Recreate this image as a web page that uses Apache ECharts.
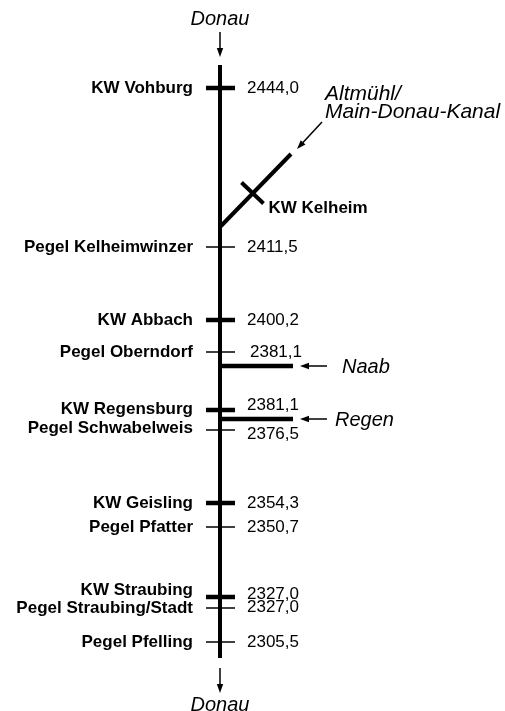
<!DOCTYPE html>
<html>
<head>
<meta charset="utf-8">
<script src="https://cdn.jsdelivr.net/npm/echarts@6/dist/echarts.min.js"></script>
<style>
html, body { margin: 0; padding: 0; background: #fff; }
#main { width: 505px; height: 711px; }
</style>
</head>
<body>
<div id="main"></div>
<script>
// Stationen an der Donau, von oben (Vohburg) nach unten (Pfelling)
var stations = ['KW Vohburg', 'Pegel Kelheimwinzer', 'KW Abbach', 'Pegel Oberndorf', 'KW Regensburg',
                'Pegel Schwabelweis', 'KW Geisling', 'Pegel Pfatter', 'KW Straubing', 'Pegel Straubing/Stadt', 'Pegel Pfelling'];
var km     = [2444.0, 2411.5, 2400.2, 2381.1, 2381.1, 2376.5, 2354.3, 2350.7, 2327.0, 2327.0, 2305.5];
var kind   = ['KW', 'Pegel', 'KW', 'Pegel', 'KW', 'Pegel', 'KW', 'Pegel', 'KW', 'Pegel', 'Pegel'];
// schematische Lage entlang des Flusses (keine km-Skala)
var slot   = [88, 247, 320, 352, 410, 430, 503, 527, 597, 608, 642];

// Zufluesse
var tributaries = ['Naab', 'Regen'];
var tribSlot    = [366, 419];
var canalName   = 'Altmühl/\nMain-Donau-Kanal';
var canalSlot   = 227;
var canalWeir   = 'KW Kelheim';

var FONT = '"Liberation Sans", Arial, Helvetica, sans-serif';
var RIVER_X = 220;

// Beschriftungen bei eng liegenden Stationen etwas auseinanderruecken
var nameDy = { 4: -1, 5: -2, 8: -7 };
var kmDy   = { 4: -5, 5: 4, 8: -3, 9: -1 };
var kmDx   = { 3: 3 };
var tribTextDx = [122, 115];

function fmtKm(v) { return v.toFixed(1).replace('.', ','); }

function seg(a, b, w) {
  return { type: 'line', shape: { x1: a[0], y1: a[1], x2: b[0], y2: b[1] },
           style: { stroke: '#000', lineWidth: w } };
}

// Linie von a nach b, Pfeilspitze bei b
function arrow(a, b) {
  var dx = b[0] - a[0], dy = b[1] - a[1];
  var L = Math.sqrt(dx * dx + dy * dy), ux = dx / L, uy = dy / L;
  var hl = 9, hw = 3.2;
  var base = [b[0] - ux * hl, b[1] - uy * hl];
  return [
    seg(a, [b[0] - ux * 4, b[1] - uy * 4], 1.5),
    { type: 'polygon', shape: { points: [b, [base[0] - uy * hw, base[1] + ux * hw], [base[0] + uy * hw, base[1] - ux * hw]] },
      style: { fill: '#000' } }
  ];
}

function txt(s, x, y, font, align, lh) {
  return { type: 'text', style: { text: s, x: x, y: y, font: font, fill: '#000',
           align: align || 'center', verticalAlign: 'middle', lineHeight: lh || 19 } };
}

var chart = echarts.init(document.getElementById('main'));

var option = {
  animation: false,
  backgroundColor: '#fff',
  grid: { left: 0, right: 0, top: 0, bottom: 0 },
  xAxis: { type: 'value', min: 0, max: 505, show: false },
  yAxis: { type: 'value', min: 0, max: 711, inverse: true, show: false },
  series: [
    // Hauptstrom, Pfeile oben/unten, Kanal
    {
      type: 'custom',
      coordinateSystem: 'cartesian2d',
      data: [[RIVER_X, canalSlot]],
      renderItem: function (params, api) {
        var top = api.coord([RIVER_X, 65]);
        var bot = api.coord([RIVER_X, 658]);
        var c = api.coord([api.value(0), api.value(1)]);
        var end = [c[0] + 71, c[1] - 73];
        var mid = [c[0] + 32.5, c[1] - 34];
        var kids = [
          seg(top, bot, 4),
          txt('Donau', top[0], top[1] - 46, 'italic 20px ' + FONT),
          txt('Donau', bot[0], bot[1] + 47, 'italic 20px ' + FONT),
          seg(c, end, 4),
          seg([mid[0] - 11, mid[1] - 10.5], [mid[0] + 11, mid[1] + 10.5], 4),
          txt(canalWeir, mid[0] + 16, mid[1] + 15, 'bold 17px ' + FONT, 'left'),
          txt(canalName, end[0] + 34, end[1] - 51, 'italic 21px ' + FONT, 'left', 18)
        ];
        kids = kids.concat(arrow([top[0], top[1] - 33], [top[0], top[1] - 8]));
        kids = kids.concat(arrow([bot[0], bot[1] + 10], [bot[0], bot[1] + 35]));
        kids = kids.concat(arrow([end[0] + 31, end[1] - 32], [end[0] + 6, end[1] - 5]));
        return { type: 'group', children: kids };
      }
    },
    // Kraftwerke und Pegel
    {
      type: 'custom',
      coordinateSystem: 'cartesian2d',
      data: stations.map(function (n, i) { return [RIVER_X, slot[i], km[i]]; }),
      renderItem: function (params, api) {
        var i = params.dataIndex;
        var p = api.coord([api.value(0), api.value(1)]);
        var kw = kind[i] === 'KW';
        return { type: 'group', children: [
          seg([p[0] - 14, p[1]], [p[0] + 15, p[1]], kw ? 4.5 : 1.5),
          txt(stations[i], p[0] - 27, p[1] + (nameDy[i] || 0), 'bold 17px ' + FONT, 'right'),
          txt(fmtKm(api.value(2)), p[0] + 27 + (kmDx[i] || 0), p[1] + (kmDy[i] || 0), '17px ' + FONT, 'left')
        ] };
      }
    },
    // Naab, Regen
    {
      type: 'custom',
      coordinateSystem: 'cartesian2d',
      data: tributaries.map(function (n, i) { return [RIVER_X, tribSlot[i]]; }),
      renderItem: function (params, api) {
        var i = params.dataIndex;
        var p = api.coord([api.value(0), api.value(1)]);
        var kids = [
          seg(p, [p[0] + 73, p[1]], 4.5),
          txt(tributaries[i], p[0] + tribTextDx[i], p[1] + 1, 'italic 20px ' + FONT, 'left')
        ];
        kids = kids.concat(arrow([p[0] + 107, p[1]], [p[0] + 80, p[1]]));
        return { type: 'group', children: kids };
      }
    }
  ]
};

chart.setOption(option);
</script>
</body>
</html>
